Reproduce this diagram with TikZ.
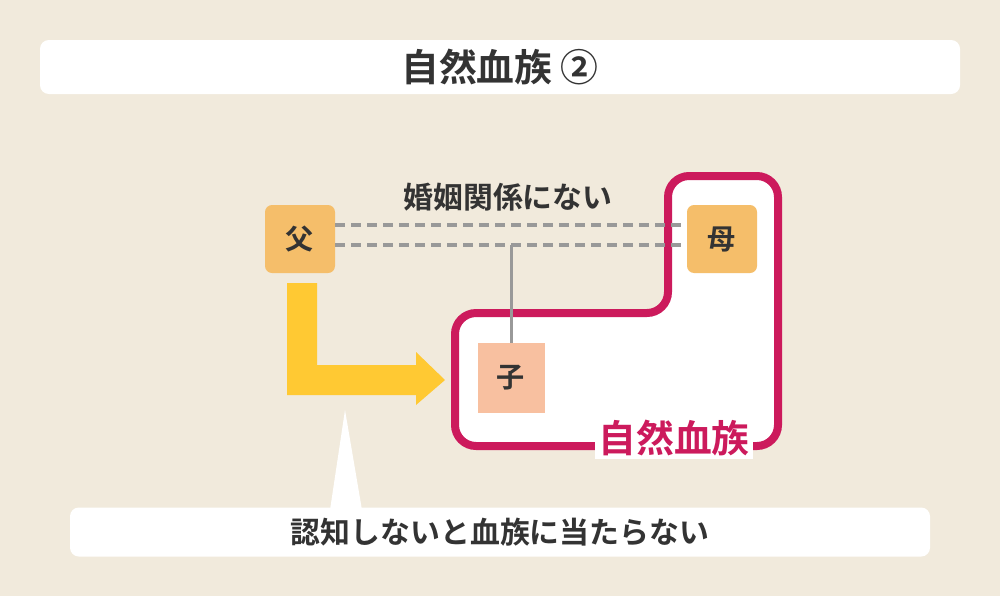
\documentclass[tikz,border=0pt]{standalone}
\usepackage{fontspec}
\newfontfamily\cjk{Noto Sans CJK JP}[BoldFont={Noto Sans CJK JP Bold}]
\definecolor{bgc}{HTML}{F1EADC}
\definecolor{txt}{HTML}{333333}
\definecolor{orng}{HTML}{F5BE6A}
\definecolor{salm}{HTML}{F8C0A0}
\definecolor{pnk}{HTML}{CC1A5C}
\definecolor{ylw}{HTML}{FFC933}
\definecolor{gry}{HTML}{999999}
\begin{document}
\begin{tikzpicture}[x=0.02cm,y=-0.02cm,
  lbl/.style={font=\cjk\bfseries, text=txt},
  person/.style={lbl, fill=orng, rounded corners=4pt, minimum width=70*0.02cm, minimum height=68*0.02cm, font=\cjk\bfseries\fontsize{16}{18}\selectfont},
  wbox/.style={fill=white, rounded corners=5pt}]
\fill[bgc] (0,0) rectangle (1000,596);
\useasboundingbox (0,0) rectangle (1000,596);
% title
\node[wbox, minimum width=920*0.02cm, minimum height=54*0.02cm] (title) at (500,67) {};
\node[lbl, font=\cjk\bfseries\fontsize{21.5}{24}\selectfont] (tt) at (title.center) {自然血族 ②};
% callout
\fill[white] (345,410) -- (362,510) -- (330,510) -- cycle;
\node[wbox, minimum width=860*0.02cm, minimum height=49*0.02cm] (bottom) at (500,532) {};
\node[lbl, font=\cjk\bfseries\fontsize{17}{19}\selectfont] (bt) at (bottom.center) {認知しないと血族に当たらない};
% pink L
\draw[pnk, line width=8*0.02cm, fill=white, rounded corners=12pt]
  (668,250) -- (668,176) -- (778,176) -- (778,446) -- (455,446) -- (455,313) -- (668,313) -- cycle;
\node[lbl, text=pnk, fill=white, inner sep=2pt, font=\cjk\bfseries\fontsize{21.5}{24}\selectfont] (nb) at (674,438) {自然血族};
% persons
\node[person] (fa) at (300,239) {父};
\node[person] (mo) at (722,239) {母};
\node[person, fill=salm, rounded corners=0pt, minimum width=67*0.02cm, minimum height=70*0.02cm] (ko) at (511,378) {子};
% lines
\draw[gry, line width=4*0.02cm, dash pattern=on 10*0.02cm off 6*0.02cm] (fa.east |- 0,225) -- (mo.west |- 0,225);
\draw[gry, line width=4*0.02cm, dash pattern=on 10*0.02cm off 6*0.02cm] (fa.east |- 0,245) coordinate (d1) -- (mo.west |- 0,245) coordinate (d2);
\coordinate (mid) at (511,245);
\draw[gry, line width=3*0.02cm] (mid) -- (ko.north);
\node[lbl, font=\cjk\bfseries\fontsize{17}{19}\selectfont] (rel) at (508,197) {婚姻関係にない};
% yellow arrow
\fill[ylw] (287,283) -- (317,283) -- (317,365) -- (416,365) -- (416,352) -- (445,380) -- (416,405) -- (416,395) -- (287,395) -- cycle;
\end{tikzpicture}
\end{document}
